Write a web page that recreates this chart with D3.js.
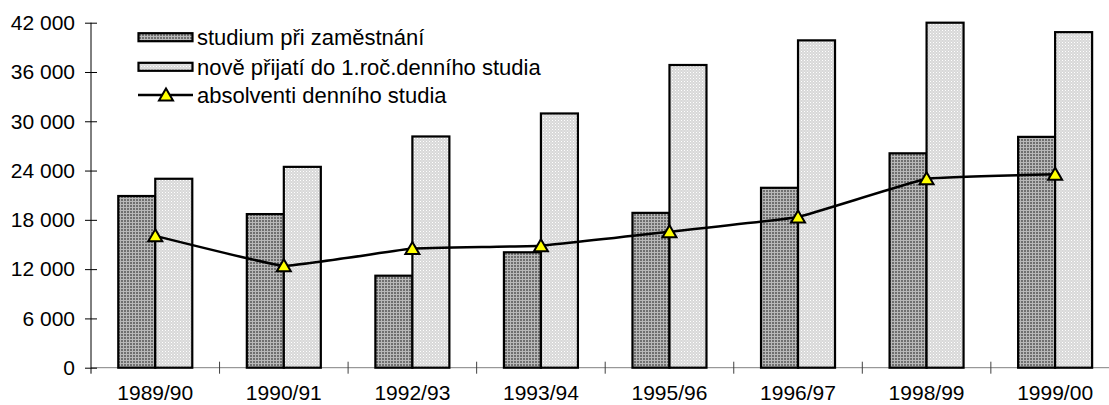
<!DOCTYPE html>
<html>
<head>
<meta charset="utf-8">
<script src="https://cdn.jsdelivr.net/npm/d3@7"></script>
<style>
  body { margin: 0; background: #fff; }
  svg { display: block; font-family: "Liberation Sans", Arial, sans-serif; }
</style>
</head>
<body>
<svg id="chart" width="1109" height="405"></svg>
<script>
// data
const categories = ["1989/90", "1990/91", "1992/93", "1993/94", "1995/96", "1996/97", "1998/99", "1999/00"];
const studium = [20900, 18700, 11200, 14050, 18850, 21900, 26100, 28100];
const novePrijati = [23000, 24450, 28150, 30950, 36850, 39850, 42000, 40850];
const absolventi = [16050, 12400, 14500, 14850, 16550, 18350, 23000, 23550];
const yTicks = [0, 6000, 12000, 18000, 24000, 30000, 36000, 42000];
const legendLabels = ["studium při zaměstnání", "nově přijatí do 1.roč.denního studia", "absolventi denního studia"];

const svg = d3.select("#chart");
const fontSize = 21;
const legendFont = 22;

// patterns
const defs = svg.append("defs");
const pDark = defs.append("pattern").attr("id", "dark")
    .attr("width", 3).attr("height", 3).attr("patternUnits", "userSpaceOnUse");
pDark.append("rect").attr("width", 3).attr("height", 3).attr("fill", "#6f6f6f");
pDark.append("rect").attr("width", 3).attr("height", 1).attr("fill", "#b8b8b8");
pDark.append("rect").attr("width", 1).attr("height", 3).attr("fill", "#b8b8b8");

const pLight = defs.append("pattern").attr("id", "light")
    .attr("width", 3).attr("height", 3).attr("patternUnits", "userSpaceOnUse");
pLight.append("rect").attr("width", 3).attr("height", 3).attr("fill", "#d8d8d8");
pLight.append("rect").attr("width", 1).attr("height", 1).attr("fill", "#ffffff");
pLight.append("rect").attr("x", 1.5).attr("y", 1.5).attr("width", 1).attr("height", 1).attr("fill", "#f0f0f0");

// scales
const x = d3.scaleBand().domain(categories).range([91, 1119.4]);
const y = d3.scaleLinear().domain([0, 42000]).range([367.7, 22.7]);
const barW = 37;

const fmt = d3.formatLocale({ decimal: ",", thousands: " ", grouping: [3], currency: ["", ""] }).format(",d");

// x axis (gray baseline + boundary ticks)
svg.append("line")
    .attr("x1", 91).attr("x2", 1119).attr("y1", y(0)).attr("y2", y(0))
    .attr("stroke", "#808080").attr("stroke-width", 1);
svg.selectAll(".xtick")
    .data(categories.slice(1))
    .enter().append("line")
    .attr("class", "xtick")
    .attr("x1", d => x(d)).attr("x2", d => x(d))
    .attr("y1", y(0) - 6).attr("y2", y(0) + 6)
    .attr("stroke", "#404040").attr("stroke-width", 1);
svg.selectAll(".xlabel")
    .data(categories)
    .enter().append("text")
    .attr("class", "xlabel")
    .attr("x", d => x(d) + x.bandwidth() / 2)
    .attr("y", 400)
    .attr("text-anchor", "middle")
    .attr("font-size", fontSize)
    .text(d => d);

// y axis
const yAxis = svg.append("g")
    .attr("transform", "translate(91,0)")
    .call(d3.axisLeft(y).tickValues(yTicks).tickSize(6).tickPadding(10).tickFormat(fmt));
yAxis.select(".domain").remove();
yAxis.selectAll(".tick line").attr("x1", -6).attr("x2", 6).attr("stroke", "#000");
yAxis.selectAll(".tick text")
    .attr("font-size", fontSize)
    .attr("font-family", "\"Liberation Sans\", Arial, sans-serif")
    .attr("fill", "#000");
svg.append("line")
    .attr("x1", 91).attr("x2", 91).attr("y1", y(42000)).attr("y2", y(0) + 6)
    .attr("stroke", "#000").attr("stroke-width", 1);

// bars
const cx = d => x(d) + x.bandwidth() / 2;
svg.selectAll(".bar-dark")
    .data(categories)
    .enter().append("rect")
    .attr("class", "bar-dark")
    .attr("x", d => cx(d) - barW)
    .attr("y", (d, i) => y(studium[i]))
    .attr("width", barW)
    .attr("height", (d, i) => y(0) - y(studium[i]))
    .attr("fill", "url(#dark)")
    .attr("stroke", "#000").attr("stroke-width", 2.2);
svg.selectAll(".bar-light")
    .data(categories)
    .enter().append("rect")
    .attr("class", "bar-light")
    .attr("x", d => cx(d))
    .attr("y", (d, i) => y(novePrijati[i]))
    .attr("width", barW)
    .attr("height", (d, i) => y(0) - y(novePrijati[i]))
    .attr("fill", "url(#light)")
    .attr("stroke", "#000").attr("stroke-width", 2.2);

// line
const pts = categories.map((c, i) => [cx(c), y(absolventi[i])]);
svg.append("path")
    .datum(pts)
    .attr("fill", "none")
    .attr("stroke", "#000")
    .attr("stroke-width", 2.5)
    .attr("d", d3.line().curve(d3.curveCardinal.tension(0.75)));

const tri = "M0,-6.5L7,5.5L-7,5.5Z";
svg.selectAll(".marker")
    .data(pts)
    .enter().append("path")
    .attr("class", "marker")
    .attr("transform", d => `translate(${d[0]},${d[1]})`)
    .attr("d", tri)
    .attr("fill", "#ffff00")
    .attr("stroke", "#000").attr("stroke-width", 2);

// legend
const lg = svg.append("g");
const rowY = [37.2, 66.8, 95];
lg.append("rect").attr("x", 138.5).attr("y", rowY[0] - 4).attr("width", 54).attr("height", 8)
    .attr("fill", "url(#dark)").attr("stroke", "#000").attr("stroke-width", 2.2);
lg.append("rect").attr("x", 138.5).attr("y", rowY[1] - 4).attr("width", 54).attr("height", 8)
    .attr("fill", "url(#light)").attr("stroke", "#000").attr("stroke-width", 2.2);
lg.append("line").attr("x1", 138).attr("x2", 193).attr("y1", rowY[2]).attr("y2", rowY[2])
    .attr("stroke", "#000").attr("stroke-width", 2.5);
lg.append("path").attr("transform", `translate(166,${rowY[2]})`).attr("d", tri)
    .attr("fill", "#ffff00").attr("stroke", "#000").attr("stroke-width", 2);
lg.selectAll(".ltext")
    .data(legendLabels)
    .enter().append("text")
    .attr("class", "ltext")
    .attr("x", 197)
    .attr("y", (d, i) => rowY[i])
    .attr("dy", "0.35em")
    .attr("font-size", legendFont)
    .text(d => d);
</script>
</body>
</html>
